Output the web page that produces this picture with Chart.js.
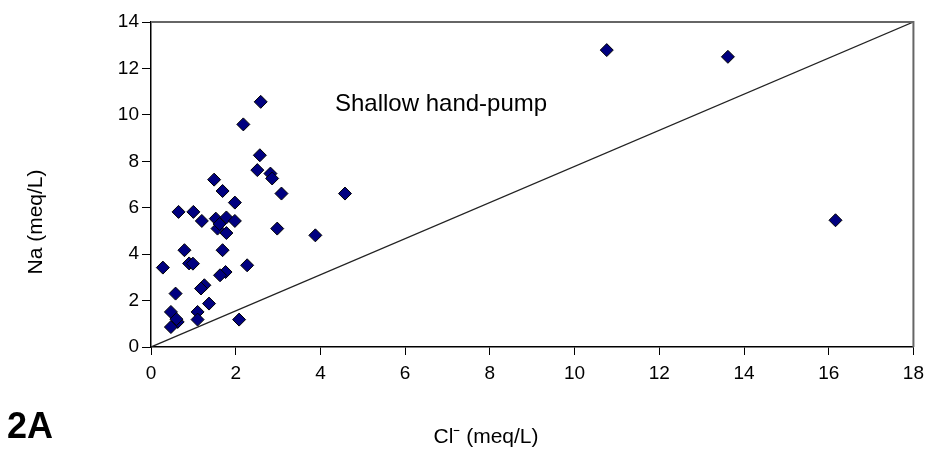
<!DOCTYPE html>
<html>
<head>
<meta charset="utf-8">
<script src="https://cdn.jsdelivr.net/npm/chart.js@4.4.0/dist/chart.umd.min.js"></script>
<style>
  html, body { margin: 0; padding: 0; background: #fff; }
  #wrap { width: 931px; height: 452px; }
</style>
</head>
<body>
<div id="wrap"><canvas id="chart-na"></canvas></div>
<script>
// Cl- vs Na, shallow hand-pump wells (meq/L)
const clValues = [2.59, 2.18, 2.57, 2.51, 2.82, 2.86, 3.08, 4.58, 1.49, 1.69, 1.98, 0.65, 1.0, 1.2, 1.53,
  1.78, 1.98, 1.57, 1.78, 1.62, 2.98, 3.88, 0.79, 1.69, 0.28, 0.9, 0.99, 2.27, 1.76, 1.63, 1.26, 1.18,
  0.58, 1.37, 0.47, 1.1, 0.63, 1.1, 0.47, 0.6, 2.08, 10.76, 13.62, 16.16];
const naValues = [10.56, 9.59, 8.26, 7.62, 7.47, 7.26, 6.61, 6.61, 7.21, 6.72, 6.22, 5.82, 5.82, 5.43, 5.53,
  5.58, 5.43, 5.1, 4.91, 5.3, 5.1, 4.81, 4.17, 4.17, 3.42, 3.6, 3.59, 3.52, 3.23, 3.09, 2.66, 2.52,
  2.3, 1.87, 1.51, 1.51, 1.08, 1.18, 0.86, 1.2, 1.18, 12.79, 12.5, 5.46];
// reference line
const lineX = [0, 18];
const lineY = [0, 14];
const xTicks = [0, 2, 4, 6, 8, 10, 12, 14, 16, 18];
const yTicks = [0, 2, 4, 6, 8, 10, 12, 14];

const points = clValues.map((v, i) => ({ x: v, y: naValues[i] }));
const linePts = lineX.map((v, i) => ({ x: v, y: lineY[i] }));

// frame + free text
const extras = {
  id: 'extras',
  afterDraw(chart) {
    const { ctx, chartArea } = chart;
    ctx.save();
    ctx.strokeStyle = '#666';
    ctx.lineWidth = 2;
    ctx.beginPath();
    ctx.moveTo(chartArea.left, chartArea.top);
    ctx.lineTo(chartArea.right, chartArea.top);
    ctx.lineTo(chartArea.right, chartArea.bottom);
    ctx.stroke();

    ctx.fillStyle = '#000';
    ctx.font = '24px Arial, "Liberation Sans", sans-serif';
    ctx.textAlign = 'left';
    ctx.textBaseline = 'alphabetic';
    ctx.fillText('Shallow hand-pump', 335, 111);

    ctx.font = '21px Arial, "Liberation Sans", sans-serif';
    ctx.textAlign = 'center';
    ctx.textBaseline = 'middle';
    ctx.fillText('Cl\u207B (meq/L)', 486, 437);

    ctx.save();
    ctx.translate(36, 222);
    ctx.rotate(-Math.PI / 2);
    ctx.fillText('Na (meq/L)', 0, 0);
    ctx.restore();

    ctx.font = 'bold 36px Arial, "Liberation Sans", sans-serif';
    ctx.textAlign = 'left';
    ctx.textBaseline = 'alphabetic';
    ctx.fillText('2A', 7, 438);
    ctx.restore();
  }
};

const tickFont = { size: 19, family: 'Arial, "Liberation Sans", sans-serif' };

const ctx = document.getElementById('chart-na').getContext('2d');
new Chart(ctx, {
  type: 'scatter',
  data: {
    datasets: [{
      label: 'Na',
      data: points,
      pointStyle: 'rectRot',
      pointRadius: 6.5,
      pointHoverRadius: 6.5,
      backgroundColor: '#000080',
      borderColor: '#000',
      borderWidth: 1
    }, {
      type: 'line',
      label: '1:1',
      data: linePts,
      borderColor: '#222',
      borderWidth: 1.3,
      pointRadius: 0,
      fill: false
    }]
  },
  options: {
    responsive: true,
    maintainAspectRatio: false,
    animation: false,
    layout: { padding: { left: 0, top: 22, right: 14, bottom: 0 } },
    plugins: {
      legend: { display: false },
      tooltip: { enabled: false }
    },
    scales: {
      x: {
        type: 'linear',
        min: 0,
        max: 18,
        afterFit: s => { s.height = 105; },
        afterBuildTicks: s => { s.ticks = xTicks.map(v => ({ value: v })); },
        border: { display: true, color: '#000', width: 1.5 },
        grid: { drawOnChartArea: false, drawTicks: true, tickLength: 8, color: '#000' },
        ticks: { color: '#000', padding: 7, font: tickFont, maxRotation: 0 }
      },
      y: {
        type: 'linear',
        min: 0,
        max: 14,
        afterFit: s => { s.width = 151; },
        afterBuildTicks: s => { s.ticks = yTicks.map(v => ({ value: v })); },
        border: { display: true, color: '#000', width: 1.5 },
        grid: { drawOnChartArea: false, drawTicks: true, tickLength: 9, color: '#000' },
        ticks: { color: '#000', padding: 3, font: tickFont }
      }
    }
  },
  plugins: [extras]
});
</script>
</body>
</html>
